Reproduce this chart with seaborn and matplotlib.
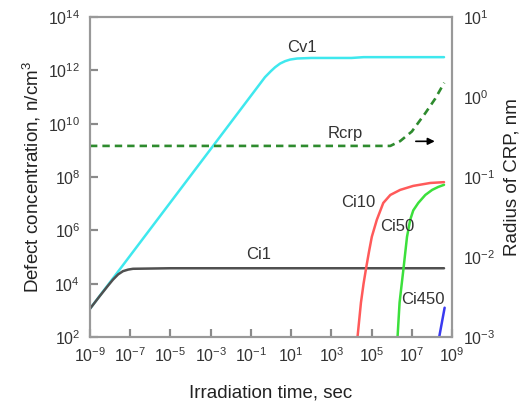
import numpy as np
import pandas as pd
import matplotlib
matplotlib.use("Agg")
import matplotlib.pyplot as plt
import seaborn as sns

# --- values, as log10 exponents ---
# time in sec, concentration in n/cm^3, radius in nm
cv1_logt = [-9.0, -3.0, -0.3, 0.0, 0.2, 0.45, 0.7, 0.95, 1.3, 2.0, 4.0, 4.6, 6.0, 8.6]
cv1_logc = [3.06, 9.05, 11.75, 11.98, 12.12, 12.26, 12.35, 12.41, 12.45, 12.47, 12.47, 12.5, 12.5, 12.5]

ci1_logt = [-9.0, -8.5, -8.1, -7.86, -7.6, -7.36, -7.1, -6.86, -5.0, 0.0, 8.6]
ci1_logc = [3.06, 3.55, 3.93, 4.15, 4.35, 4.47, 4.53, 4.56, 4.58, 4.58, 4.58]

ci10_logt = [4.30, 4.47, 4.60, 4.73, 4.87, 5.01, 5.26, 5.58, 5.93, 6.42, 7.07, 7.92, 8.6]
ci10_logc = [2.0, 3.29, 4.0, 4.60, 5.2, 5.76, 6.40, 7.03, 7.33, 7.52, 7.67, 7.78, 7.81]

ci50_logt = [6.29, 6.39, 6.59, 6.76, 6.92, 7.07, 7.32, 7.67, 8.01, 8.31, 8.6]
ci50_logc = [2.0, 3.29, 4.60, 5.76, 6.40, 6.75, 7.03, 7.33, 7.52, 7.63, 7.71]

ci450_logt = [8.36, 8.63]
ci450_logc = [2.0, 3.1]

rcrp_logt = [-9.0, 0.0, 5.93, 6.42, 7.0, 7.67, 8.16, 8.61]
rcrp_logr = [-0.61, -0.61, -0.61, -0.55, -0.43, -0.20, -0.02, 0.18]

x_ticks = [1e-9, 1e-7, 1e-5, 1e-3, 1e-1, 1e1, 1e3, 1e5, 1e7, 1e9]
x_labels = ["$10^{-9}$", "$10^{-7}$", "$10^{-5}$", "$10^{-3}$", "$10^{-1}$",
            "$10^{1}$", "$10^{3}$", "$10^{5}$", "$10^{7}$", "$10^{9}$"]
y_ticks = [1e2, 1e4, 1e6, 1e8, 1e10, 1e12, 1e14]
y_labels = ["$10^{2}$", "$10^{4}$", "$10^{6}$", "$10^{8}$", "$10^{10}$", "$10^{12}$", "$10^{14}$"]
r_ticks = [1e-3, 1e-2, 1e-1, 1e0, 1e1]
r_labels = ["$10^{-3}$", "$10^{-2}$", "$10^{-1}$", "$10^{0}$", "$10^{1}$"]

sns.set_style("ticks")
plt.rcParams["font.family"] = ["Liberation Sans", "DejaVu Sans"]
plt.rcParams["mathtext.fontset"] = "custom"
plt.rcParams["mathtext.rm"] = "Liberation Sans"
plt.rcParams["mathtext.it"] = "Liberation Sans:italic"
plt.rcParams["mathtext.bf"] = "Liberation Sans:bold"

fig = plt.figure(figsize=(5.21, 4.09), dpi=100)
ax = fig.add_axes([0.1727, 0.176, 0.695, 0.782])

curves = [
    (cv1_logt, cv1_logc, "#3FE8EE"),
    (ci1_logt, ci1_logc, "#505050"),
    (ci10_logt, ci10_logc, "#FF5A5A"),
    (ci50_logt, ci50_logc, "#3CE03C"),
    (ci450_logt, ci450_logc, "#3A3AF0"),
]
for lt, lc, col in curves:
    df = pd.DataFrame({"t": 10.0 ** np.array(lt), "c": 10.0 ** np.array(lc)})
    sns.lineplot(data=df, x="t", y="c", ax=ax, color=col, lw=1.8,
                 estimator=None, sort=False)

ax.set_xscale("log")
ax.set_yscale("log")
ax.set_xlim(1e-9, 1e9)
ax.set_ylim(1e2, 1e14)
ax.set_xticks(x_ticks, x_labels)
ax.set_yticks(y_ticks, y_labels)
ax.minorticks_off()

# inward tick marks at the tick positions
tick_col = "#8a8a8a"
ax.vlines(x_ticks, 0, 0.026, transform=ax.get_xaxis_transform(),
          color=tick_col, lw=1.5, zorder=5, clip_on=False)
ax.hlines(y_ticks, 0, 0.023, transform=ax.get_yaxis_transform(),
          color=tick_col, lw=1.5, zorder=5, clip_on=False)

# right axis for the CRP radius
ax2 = ax.twinx()
df_r = pd.DataFrame({"t": 10.0 ** np.array(rcrp_logt), "r": 10.0 ** np.array(rcrp_logr)})
sns.lineplot(data=df_r, x="t", y="r", ax=ax2, color="#2E8B2E", lw=1.9,
             estimator=None, sort=False, linestyle=(0, (2.8, 1.9)))
ax2.set_yscale("log")
ax2.set_ylim(1e-3, 1e1)
ax2.set_yticks(r_ticks, r_labels)
ax2.minorticks_off()
ax2.set_xlim(1e-9, 1e9)

ax.tick_params(axis="both", which="major", direction="in", length=6, width=1.5,
               color=tick_col, labelcolor="#333333", labelsize=11.5, pad=7,
               bottom=True, left=True)
ax2.tick_params(axis="y", which="both", length=0, labelcolor="#333333",
                labelsize=11.5, pad=8)
for a in (ax, ax2):
    for s in a.spines.values():
        s.set_color("#999999")
        s.set_linewidth(1.5)

ax.set_xlabel("Irradiation time, sec", fontsize=13.5, color="#222222", labelpad=14)
ax.set_ylabel("Defect concentration, n/cm$^3$", fontsize=13.5, color="#222222", labelpad=4)
ax2.set_ylabel("Radius of CRP, nm", fontsize=13.5, color="#222222", rotation=90, labelpad=6)

txt = dict(fontsize=12, color="#333333", ha="center", va="center")
ax.text(3.5e1, 7.5e12, "Cv1", **txt)
ax.text(5e3, 4.5e9, "Rcrp", **txt)
ax.text(2.3e-1, 1.2e5, "Ci1", **txt)
ax.text(2.2e4, 1.1e7, "Ci10", **txt)
ax.text(1.9e6, 1.35e6, "Ci50", **txt)
ax.text(3.7e7, 2.5e3, "Ci450", **txt)
ax.annotate("", xy=(1.9e8, 2.2e9), xytext=(1.15e7, 2.2e9),
            arrowprops=dict(arrowstyle="-|>", color="black", lw=1.2,
                            mutation_scale=10))

fig.savefig("out.png", dpi=100)
